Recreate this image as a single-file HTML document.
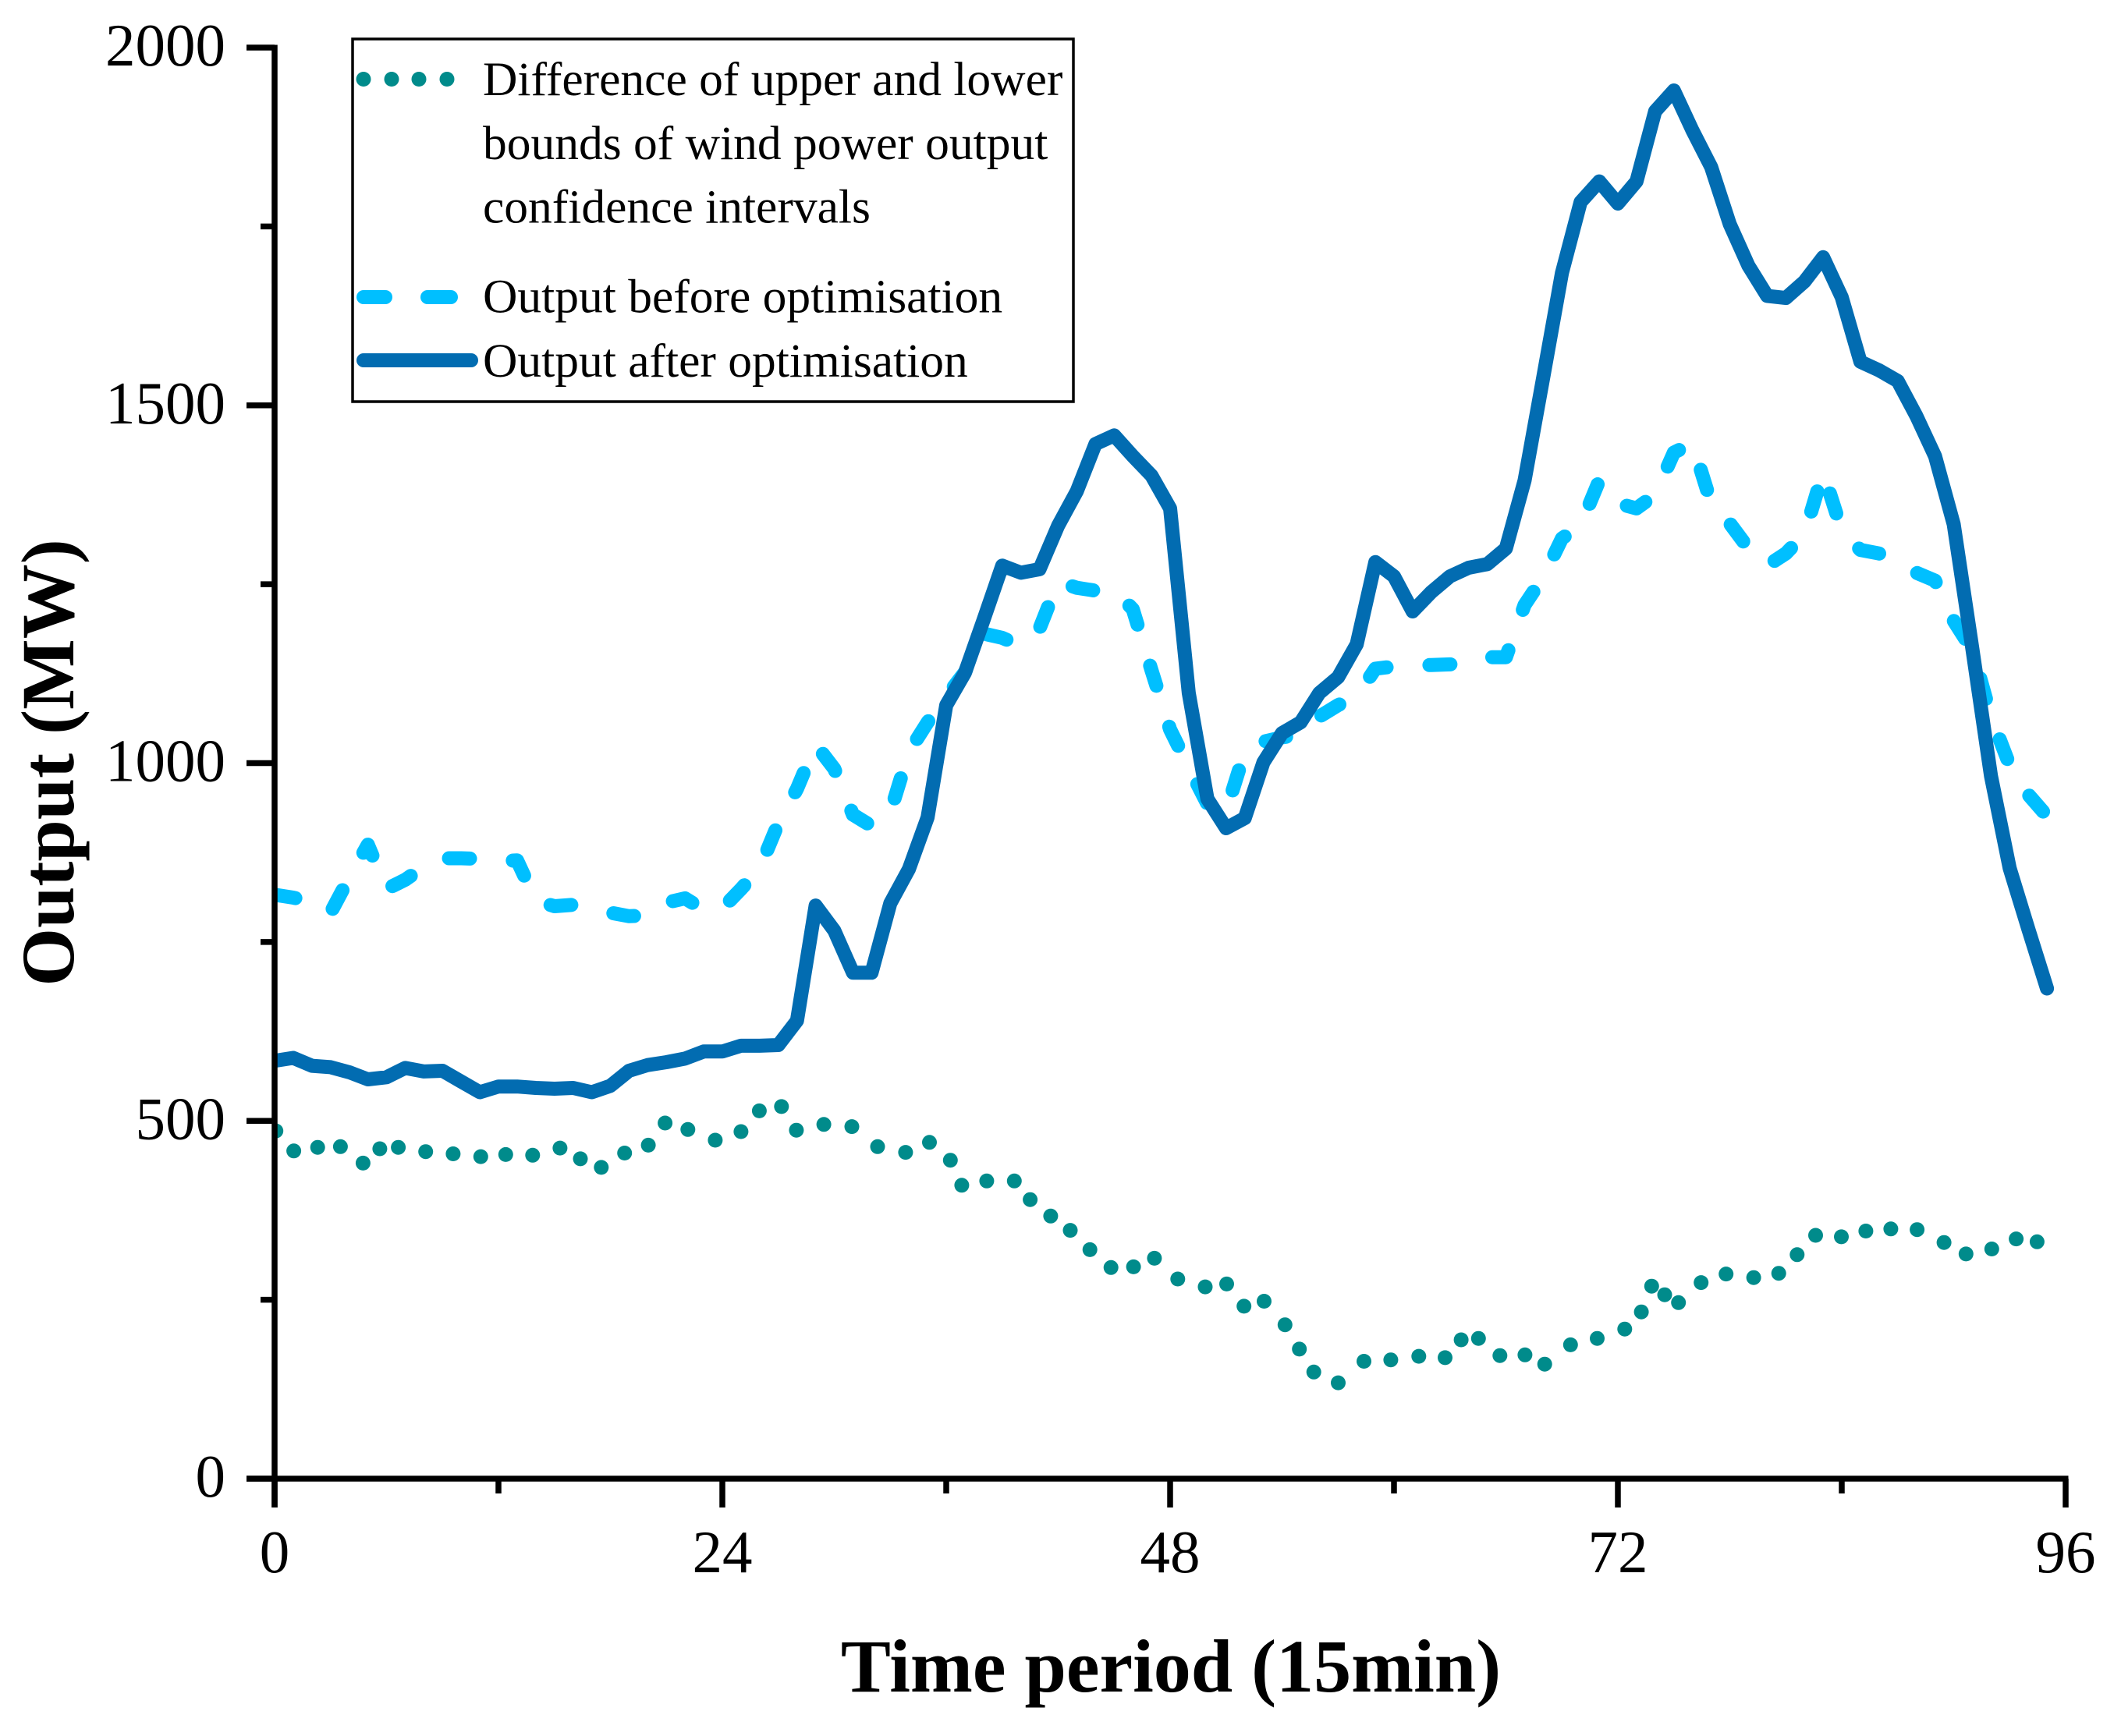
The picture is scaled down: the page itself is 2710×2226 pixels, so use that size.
<!DOCTYPE html>
<html lang="en">
<head>
<meta charset="utf-8">
<title>Output before and after optimisation</title>
<style>
html,body{margin:0;padding:0;background:#fff;}
svg{display:block;}
text{font-family:"Liberation Serif",serif;fill:#000;}
.tick-label{font-size:77px;}
.legend-text{font-size:61.5px;}
.axis-title{font-size:96px;font-weight:bold;}
</style>
</head>
<body>
<svg id="chart" xmlns="http://www.w3.org/2000/svg" width="2710" height="2226" viewBox="0 0 2710 2226">
  <defs>
    <clipPath id="plot-clip"><rect x="352" y="0" width="2358" height="2226"/></clipPath>
  </defs>
  <rect x="0" y="0" width="2710" height="2226" fill="#fff"/>
  <g id="series-layer" clip-path="url(#plot-clip)"></g>
  <g id="axis-layer"></g>
  <text class="axis-title" x="1501" y="2169" text-anchor="middle">Time period (15min)</text>
  <text class="axis-title" transform="translate(94 978) rotate(-90)" text-anchor="middle">Output (MW)</text>
  <g>
    <rect x="452" y="50" width="924" height="465" fill="#fff" stroke="#000" stroke-width="3.5"/>
    <g fill="#008B8B">
      <circle cx="466" cy="101.5" r="9.5"/><circle cx="502" cy="101.5" r="9.5"/><circle cx="537" cy="101.5" r="9.5"/><circle cx="573" cy="101.5" r="9.5"/>
    </g>
    <text class="legend-text" x="619" y="122">Difference of upper and lower</text>
    <text class="legend-text" x="619" y="204">bounds of wind power output</text>
    <text class="legend-text" x="619" y="285.5">confidence intervals</text>
    <g stroke="#00BFFF" stroke-width="18" stroke-linecap="round">
      <line x1="466" y1="381" x2="494" y2="381"/><line x1="548" y1="381" x2="578" y2="381"/>
    </g>
    <text class="legend-text" x="619" y="400.5">Output before optimisation</text>
    <line x1="466" y1="462" x2="604" y2="462" stroke="#026CB1" stroke-width="18" stroke-linecap="round"/>
    <text class="legend-text" x="619" y="483">Output after optimisation</text>
  </g>
</svg>
<script>
const xMajorTicks = [0, 24, 48, 72, 96];
const xMinorTicks = [12, 36, 60, 84];
const yMajorTicks = [0, 500, 1000, 1500, 2000];
const yMinorTicks = [250, 750, 1250, 1750];

const outputAfter = [584,588,577,575,568,558,561,574,569,570,555,540,548,548,546,545,546,540,549,570,578,582,587,597,597,605,605,606,640,801,766,707,707,804,852,924,1081,1126,1200,1276,1266,1271,1332,1380,1446,1458,1429,1402,1356,1098,950,909,923,1001,1042,1057,1098,1120,1166,1281,1261,1212,1239,1261,1273,1278,1300,1395,1539,1685,1784,1813,1782,1813,1911,1940,1884,1833,1753,1695,1653,1650,1673,1707,1651,1561,1549,1534,1485,1429,1334,1160,982,853,768,685];

const outputBefore = [816,812,806,791,840,886,824,837,855,867,867,866,863,864,808,800,802,797,791,786,787,805,811,795,797,824,853,916,964,1026,992,928,912,931,1016,1057,1093,1127,1181,1175,1164,1188,1254,1245,1241,1242,1215,1130,1047,994,943,933,1016,1030,1036,1040,1065,1081,1093,1132,1135,1137,1137,1138,1139,1148,1148,1221,1260,1314,1332,1395,1363,1356,1375,1434,1447,1363,1335,1300,1276,1293,1320,1407,1325,1298,1293,1276,1266,1255,1199,1158,1065,997,956,926];

const differencePeriods = [0.07,1.03,2.31,3.53,4.74,5.64,6.63,8.10,9.57,11.05,12.39,13.83,15.30,16.39,17.51,18.76,20.03,20.93,22.15,23.62,25.00,25.98,27.17,27.97,29.44,30.94,32.32,33.82,35.10,36.22,36.83,38.17,39.65,40.50,41.60,42.65,43.70,44.83,46.04,47.16,48.41,49.88,51.03,51.96,53.04,54.16,54.93,55.70,57.01,58.39,59.83,61.33,62.74,63.60,64.53,65.68,67.02,68.08,69.46,70.89,72.37,73.26,73.81,74.51,75.25,76.46,77.80,79.28,80.62,81.61,82.60,83.98,85.29,86.63,88.04,89.48,90.66,92.04,93.35,94.47];
const differenceValues = [486,458,463,464,441,461,463,457,454,450,453,452,462,447,435,455,466,497,488,473,485,514,520,487,495,492,464,456,470,445,410,416,416,390,367,347,320,295,296,308,279,268,272,241,248,215,181,149,134,164,166,171,169,194,196,172,173,160,187,196,209,233,269,257,246,274,286,281,287,313,340,338,346,349,348,330,314,321,335,331];

const SVG_NS = 'http://www.w3.org/2000/svg';
const AXIS_WIDTH = '7.5';

function xScale(period) {
  return 352 + period * (2296 / 96);
}
function yScale(value) {
  return 1896 - value * (1835 / 2000);
}
function make(tag, parent) {
  const el = document.createElementNS(SVG_NS, tag);
  parent.appendChild(el);
  return el;
}
function linePoints(values) {
  return values.map(function (v, i) {
    return xScale(i).toFixed(1) + ',' + yScale(v).toFixed(1);
  }).join(' ');
}

const seriesLayer = document.getElementById('series-layer');
const axisLayer = document.getElementById('axis-layer');

/* difference: dotted series */
const dotGroup = make('g', seriesLayer);


dotGroup.setAttribute('fill', '#008B8B');
differenceValues.forEach(function (v, i) {
  const dot = make('circle', dotGroup);
  
  
  dot.setAttribute('cx', xScale(differencePeriods[i]).toFixed(1));
  dot.setAttribute('cy', yScale(v).toFixed(1));
  dot.setAttribute('r', '9.5');
});

/* before: dashed series */
const beforeLine = make('polyline', seriesLayer);


beforeLine.setAttribute('points', linePoints(outputBefore));
beforeLine.setAttribute('fill', 'none');
beforeLine.setAttribute('stroke', '#00BFFF');
beforeLine.setAttribute('stroke-width', '18');
beforeLine.setAttribute('stroke-linecap', 'round');
beforeLine.setAttribute('stroke-linejoin', 'round');
beforeLine.setAttribute('stroke-dasharray', '27 55');

/* after: solid series */
const afterLine = make('polyline', seriesLayer);


afterLine.setAttribute('points', linePoints(outputAfter));
afterLine.setAttribute('fill', 'none');
afterLine.setAttribute('stroke', '#026CB1');
afterLine.setAttribute('stroke-width', '18');
afterLine.setAttribute('stroke-linecap', 'round');
afterLine.setAttribute('stroke-linejoin', 'round');

/* axes */
const yAxisLine = make('line', axisLayer);


yAxisLine.setAttribute('x1', xScale(0));
yAxisLine.setAttribute('x2', xScale(0));
yAxisLine.setAttribute('y1', yScale(2000) - 3.5);
yAxisLine.setAttribute('y2', 1933);
yAxisLine.setAttribute('stroke', '#000');
yAxisLine.setAttribute('stroke-width', AXIS_WIDTH);

const xAxisLine = make('line', axisLayer);


xAxisLine.setAttribute('x1', 316);
xAxisLine.setAttribute('x2', xScale(96) + 3.5);
xAxisLine.setAttribute('y1', yScale(0));
xAxisLine.setAttribute('y2', yScale(0));
xAxisLine.setAttribute('stroke', '#000');
xAxisLine.setAttribute('stroke-width', AXIS_WIDTH);

yMajorTicks.forEach(function (v) {
  const t = make('line', axisLayer);
  
  
  t.setAttribute('x1', 316);
  t.setAttribute('x2', xScale(0));
  t.setAttribute('y1', yScale(v));
  t.setAttribute('y2', yScale(v));
  t.setAttribute('stroke', '#000');
  t.setAttribute('stroke-width', AXIS_WIDTH);
  const label = make('text', axisLayer);
  
  
  label.setAttribute('class', 'tick-label');
  label.setAttribute('x', 289);
  label.setAttribute('y', yScale(v) + 23);
  label.setAttribute('text-anchor', 'end');
  label.textContent = String(v);
});
yMinorTicks.forEach(function (v) {
  const t = make('line', axisLayer);
  
  
  t.setAttribute('x1', 334);
  t.setAttribute('x2', xScale(0));
  t.setAttribute('y1', yScale(v));
  t.setAttribute('y2', yScale(v));
  t.setAttribute('stroke', '#000');
  t.setAttribute('stroke-width', AXIS_WIDTH);
});
xMajorTicks.forEach(function (p) {
  const t = make('line', axisLayer);
  
  
  t.setAttribute('x1', xScale(p));
  t.setAttribute('x2', xScale(p));
  t.setAttribute('y1', yScale(0));
  t.setAttribute('y2', 1933);
  t.setAttribute('stroke', '#000');
  t.setAttribute('stroke-width', AXIS_WIDTH);
  const label = make('text', axisLayer);
  
  
  label.setAttribute('class', 'tick-label');
  label.setAttribute('x', xScale(p));
  label.setAttribute('y', 2016);
  label.setAttribute('text-anchor', 'middle');
  label.textContent = String(p);
});
xMinorTicks.forEach(function (p) {
  const t = make('line', axisLayer);
  
  
  t.setAttribute('x1', xScale(p));
  t.setAttribute('x2', xScale(p));
  t.setAttribute('y1', yScale(0));
  t.setAttribute('y2', 1915);
  t.setAttribute('stroke', '#000');
  t.setAttribute('stroke-width', AXIS_WIDTH);
});
</script>
</body>
</html>
